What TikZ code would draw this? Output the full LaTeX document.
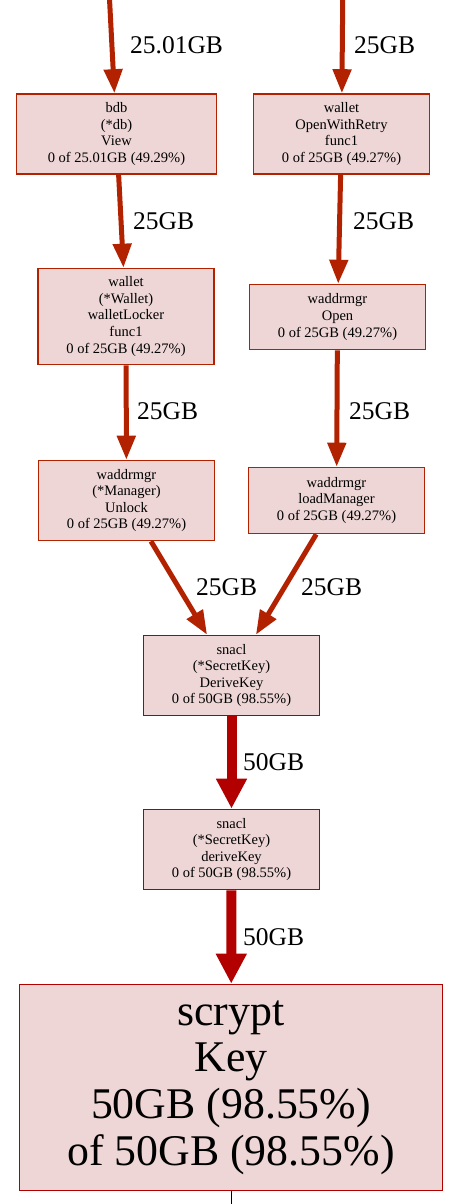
\documentclass[tikz,border=0pt]{standalone}
\usepackage{fontspec}
\setmainfont{Liberation Serif}
\usepackage{tikz}
\usetikzlibrary{arrows.meta,positioning}
\definecolor{halfred}{HTML}{B22200}
\definecolor{fullred}{HTML}{B20000}
\definecolor{boxfill}{HTML}{EDD6D5}
\tikzset{
  basic/.style  = {draw, rectangle, fill=boxfill, line width=1.6pt, align=center,
                   inner sep=2pt, font=\fontsize{14.5}{16.6}\selectfont},
  level half/.style = {basic, draw=halfred, minimum width=176pt},
  level full/.style = {basic, draw=fullred, minimum width=176pt},
  big/.style    = {basic, draw=fullred, minimum width=423pt, minimum height=206pt,
                   font=\fontsize{43.8}{46.7}\selectfont},
  light/.style  = {->, draw=halfred, line width=5pt},
  heavy/.style  = {-{Triangle[length=30pt,width=29pt]}, draw=fullred, line width=10pt},
  weight/.style = {anchor=west, inner sep=0pt, font=\fontsize{25.5}{28}\selectfont}
}

\begin{document}
\begin{tikzpicture}[x=1pt, y=-1pt,
  >={Triangle[length=24pt,width=18pt]}]

\useasboundingbox (0,0) rectangle (457,1204);
\clip (0,0) rectangle (457,1204);

% callers above the crop
\coordinate (viewin) at (108,-30);
\node[level half, minimum width=200pt, minimum height=60pt, anchor=south] (caller) at (343,0) {};

% first row
\node[level half, minimum width=200pt, minimum height=80pt] (view) at (116.5,134)
  {bdb\\(*db)\\View\\0 of 25.01GB (49.29\%)};
\node[level half, minimum height=80pt] (retry) at (341.5,134)
  {wallet\\OpenWithRetry\\func1\\0 of 25GB (49.27\%)};
% second row
\node[level half, minimum height=96pt] (locker) at (126,316.5)
  {wallet\\(*Wallet)\\walletLocker\\func1\\0 of 25GB (49.27\%)};
\node[level half, minimum height=65pt] (open) at (337.5,317)
  {waddrmgr\\Open\\0 of 25GB (49.27\%)};
% third row
\node[level half, minimum height=80pt] (unlock) at (126.5,500.5)
  {waddrmgr\\(*Manager)\\Unlock\\0 of 25GB (49.27\%)};
\node[level half, minimum height=66pt] (loadmgr) at (336.5,500.5)
  {waddrmgr\\loadManager\\0 of 25GB (49.27\%)};
% the common path
\node[level full, minimum height=80pt] (derive) at (231.5,675.5)
  {snacl\\(*SecretKey)\\DeriveKey\\0 of 50GB (98.55\%)};
\node[level full, minimum height=80pt] (derivekey) at (231.5,849.5)
  {snacl\\(*SecretKey)\\deriveKey\\0 of 50GB (98.55\%)};
\node[big] (key) at (231,1087.5)
  {scrypt\\Key\\50GB (98.55\%)\\of 50GB (98.55\%)};
\coordinate (keyout) at (231,1230);

% edges
\draw[light] (viewin) -- (view);
\draw[light] (caller) -- (retry);
\draw[light] (view) -- (locker);
\draw[light] (retry) -- (open);
\draw[light] (locker) -- (unlock);
\draw[light] (open) -- (loadmgr);
\draw[light] (unlock) -- (derive);
\draw[light] (loadmgr) -- (derive);
\draw[heavy] (derive) -- (derivekey);
\draw[heavy] (derivekey) -- (key);
\draw[black, line width=1pt] (key) -- (keyout);

% edge weights
\node[weight] (w1) at (130,45) {25.01GB};
\node[weight] (w2) at (354,45) {25GB};
\node[weight] (w3) at (133,221) {25GB};
\node[weight] (w4) at (353,221) {25GB};
\node[weight] (w5) at (137,411) {25GB};
\node[weight] (w6) at (349,411) {25GB};
\node[weight] (w7) at (196,587) {25GB};
\node[weight] (w8) at (301,587) {25GB};
\node[weight] (w9) at (243,762) {50GB};
\node[weight] (w10) at (243,937) {50GB};

\end{tikzpicture}
\end{document}
